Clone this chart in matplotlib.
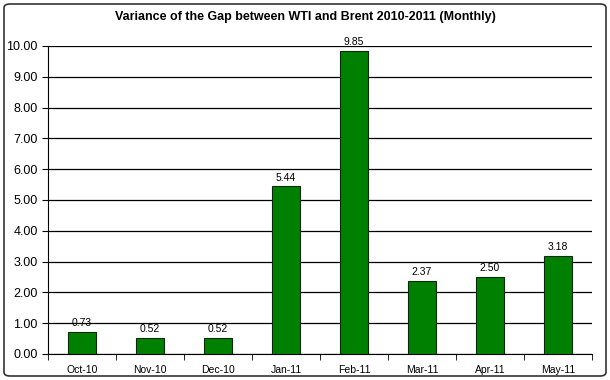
import matplotlib
matplotlib.use("Agg")
import matplotlib.pyplot as plt
from matplotlib.patches import FancyBboxPatch

plt.rcParams['font.family'] = ['Liberation Sans', 'DejaVu Sans']

months = ["Oct-10", "Nov-10", "Dec-10", "Jan-11", "Feb-11", "Mar-11", "Apr-11", "May-11"]
variance = [0.73, 0.52, 0.52, 5.44, 9.85, 2.37, 2.50, 3.18]
yticks = [0, 1, 2, 3, 4, 5, 6, 7, 8, 9, 10]

fig = plt.figure(figsize=(6.1, 3.8), dpi=100)
ax = fig.add_axes([48/610, 26/380, 544/610, 308/380])

x = range(len(months))
bars = ax.bar(x, variance, width=0.42, color="#008000", edgecolor="#0a2a0a", linewidth=0.8, zorder=3)
for xi, v in zip(x, variance):
    ax.text(xi, v + 0.12, f"{v:.2f}", ha="center", va="bottom", fontsize=7.5)

ax.set_xlim(-0.5, len(months) - 0.5)
ax.set_ylim(0, 10)
ax.set_yticks(yticks)
ax.set_yticklabels([f"{t:.2f}" for t in yticks], fontsize=9)
ax.yaxis.grid(True, color="black", linewidth=0.9)
ax.set_axisbelow(True)

ax.set_xticks(x)
ax.set_xticklabels(months, fontsize=7.5)
ax.tick_params(axis="x", which="major", length=0, pad=8)
ax.set_xticks([i + 0.5 for i in range(-1, len(months))], minor=True)
ax.tick_params(axis="x", which="minor", length=4, direction="out")
ax.tick_params(axis="y", length=4, direction="out")

for s in ["top", "right"]:
    ax.spines[s].set_visible(False)
ax.spines["left"].set_color("black")
ax.spines["bottom"].set_color("black")

fig.text(0.5, 0.955, "Variance of the Gap between WTI and Brent 2010-2011 (Monthly)",
         ha="center", va="center", fontsize=9, fontweight="bold")

border = FancyBboxPatch((4/610, 4/380), 602/610, 372/380, boxstyle="round,pad=0,rounding_size=0.01",
                        transform=fig.transFigure, fill=False, edgecolor="#333333", linewidth=1.2)
fig.patches.append(border)

fig.savefig("out.png", dpi=100)
